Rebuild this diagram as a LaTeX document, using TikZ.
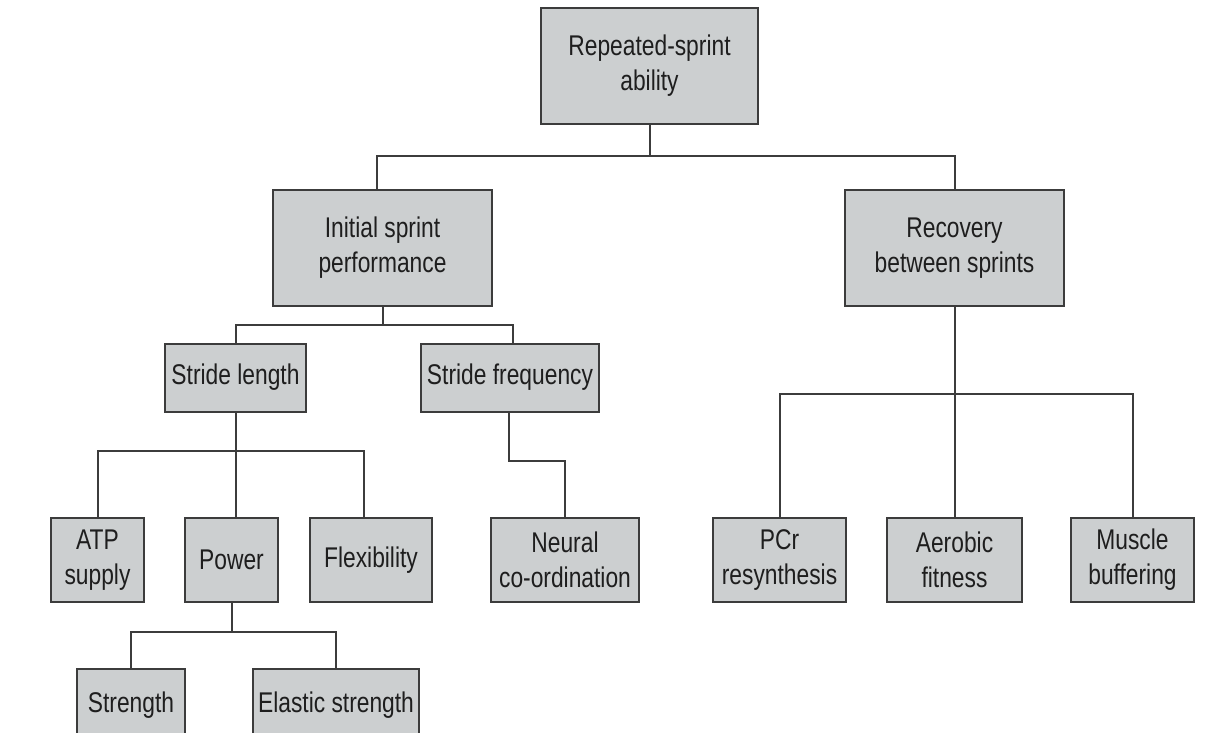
\documentclass[tikz,border=0pt]{standalone}
\usepackage{fontspec}
\setmainfont{Liberation Sans}[FakeStretch=0.8]
\definecolor{boxfill}{HTML}{CCCFD0}
\definecolor{edge}{HTML}{3C3C3C}
\definecolor{txt}{HTML}{1E1E1E}
\begin{document}
\begin{tikzpicture}[x=1pt,y=-1pt,
  box/.style={draw=edge, fill=boxfill, line width=2pt, inner sep=0pt, align=center, text=txt,
    font=\fontsize{28.5}{35}\selectfont},
  link/.style={draw=edge, line width=2pt}]
\useasboundingbox (0,0) rectangle (1218,733);
\clip (0,0) rectangle (1218,733);
% level 1
\node[box, minimum width=217pt, minimum height=116pt] (top) at (649.5,66) {Repeated-sprint\\ability};
% level 2
\node[box, minimum width=219pt, minimum height=116pt] (init) at (382.5,248) {Initial sprint\\performance};
\node[box, minimum width=219pt, minimum height=116pt] (rec) at (954.5,248) {Recovery\\between sprints};
% level 3
\node[box, minimum width=141pt, minimum height=68pt] (sl) at (235.5,377.5) {Stride length};
\node[box, minimum width=178pt, minimum height=68pt] (sf) at (510,377.5) {Stride frequency};
% level 4
\node[box, minimum width=93pt, minimum height=84pt] (atp) at (97.5,560) {ATP\\supply};
\node[box, minimum width=93pt, minimum height=84pt] (pow) at (231.5,560) {Power};
\node[box, minimum width=122pt, minimum height=84pt] (flex) at (371,560) {Flexibility};
\node[box, minimum width=148pt, minimum height=84pt] (neu) at (565,560) {Neural\\co-ordination};
\node[box, minimum width=133pt, minimum height=84pt] (pcr) at (779.5,560) {PCr\\resynthesis};
\node[box, minimum width=135pt, minimum height=84pt] (aer) at (954.5,560) {Aerobic\\fitness};
\node[box, minimum width=123pt, minimum height=84pt] (mus) at (1132.5,560) {Muscle\\buffering};
% level 5 (cut off at the bottom)
\node[box, minimum width=108pt, minimum height=72pt] (str) at (131,705) {Strength};
\node[box, minimum width=166pt, minimum height=72pt] (ela) at (336,705) {Elastic strength};
% junctions
\coordinate (j1) at (649.5,156);
\coordinate (j2) at (382.5,325);
\coordinate (j3) at (235.5,451);
\coordinate (j4) at (509,461);
\coordinate (j5) at (954.5,394);
\coordinate (j6) at (231.5,632);
% connectors
\draw[link] (top.south) -- (j1);
\draw[link] ([xshift=-5.5pt]init.north) |- (j1);
\draw[link] (rec.north) |- (j1);
\draw[link] (init.south) -- (j2);
\draw[link] (sl.north) |- (j2);
\draw[link] ([xshift=3pt]sf.north) |- (j2);
\draw[link] (sl.south) -- (sl.south |- pow.north);
\draw[link] (atp.north) |- (j3);
\draw[link] ([xshift=-7pt]flex.north) |- (j3);
\draw[link] ([xshift=-1pt]sf.south) -- (j4) -| (neu.north);
\draw[link] (rec.south) -- (aer.north);
\draw[link] (pcr.north) |- (j5);
\draw[link] (mus.north) |- (j5);
\draw[link] (pow.south) -- (j6);
\draw[link] (str.north) |- (j6);
\draw[link] (ela.north) |- (j6);
\end{tikzpicture}
\end{document}
